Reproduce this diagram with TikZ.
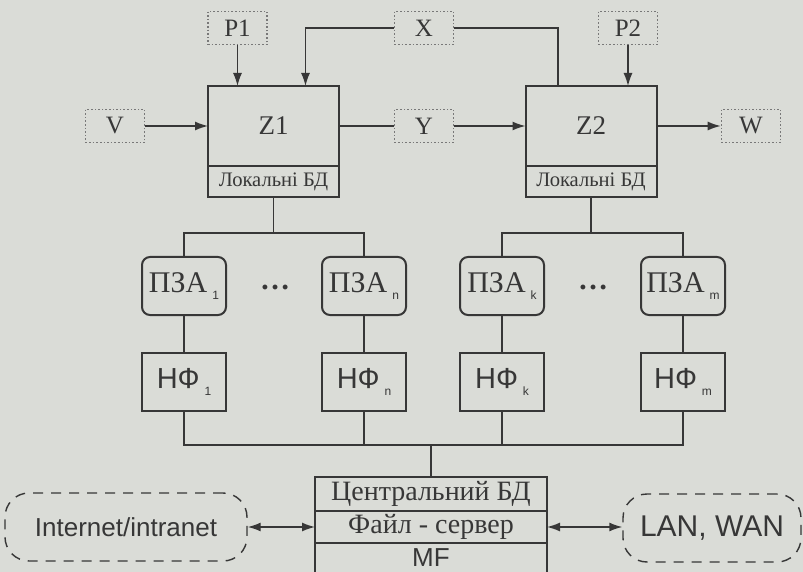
\documentclass[tikz,border=0pt]{standalone}
\usepackage{fontspec}
\setmainfont{Liberation Serif}
\setsansfont{Liberation Sans}
\usepackage{tikz}
\usetikzlibrary{shapes,arrows,arrows.meta,positioning,calc}
\definecolor{paper}{RGB}{218,220,215}
\definecolor{ink}{RGB}{55,55,55}
\definecolor{dotgray}{RGB}{120,120,120}
\newcommand{\lowidx}[1]{\,\raisebox{-0.5ex}{\sffamily\fontsize{6}{6}\selectfont #1}}

\begin{document}
\begin{tikzpicture}[x=0.5pt,y=-0.5pt,>={Latex[length=6.5pt,width=4.5pt]},
  every node/.style={text=ink},
  sig/.style={draw=dotgray,densely dotted,line width=0.8pt,minimum width=29.5pt,minimum height=16.5pt,inner sep=0pt,font=\fontsize{12.5}{13}\selectfont},
  block/.style={draw=ink,line width=1pt,outer sep=0pt,inner sep=0pt,minimum width=65.5pt,minimum height=40pt,font=\fontsize{13.5}{14}\selectfont},
  localdb/.style={draw=ink,line width=1pt,outer sep=0pt,inner sep=0pt,minimum width=65.5pt,minimum height=15.5pt,font=\fontsize{10.3}{11}\selectfont},
  pza/.style={draw=ink,line width=1pt,rounded corners=4pt,minimum width=42pt,minimum height=29pt,inner sep=0pt,font=\fontsize{15}{15}\selectfont},
  nf/.style={draw=ink,line width=1pt,minimum width=42pt,minimum height=29pt,inner sep=0pt,font=\sffamily\fontsize{14.5}{15}\selectfont},
  cbox/.style={draw=ink,line width=1pt,outer sep=0pt,inner sep=0pt,minimum width=116pt,font=\fontsize{14}{15}\selectfont},
  net/.style={draw=ink,line width=0.7pt,dash pattern=on 5pt off 4pt,rounded corners=12pt,minimum height=34pt,inner sep=0pt},
  link/.style={draw=ink,line width=0.7pt}]
\fill[paper] (0,0) rectangle (803,572);

\node[sig] (P1) at (237.5,28) {P1};
\node[sig] (X) at (424,28) {X};
\node[sig] (P2) at (628,28) {P2};
\node[sig] (V) at (115,126) {V};
\node[sig] (Y) at (424,126) {Y};
\node[sig] (W) at (751,126) {W};

\node[block] (Z1) at (273.5,126) {Z1};
\node[localdb,below=0pt of Z1] (Z1db) {Локальні БД};
\node[block] (Z2) at (591,126) {Z2};
\node[localdb,below=0pt of Z2] (Z2db) {Локальні БД};

\draw[link,->] (P1) -- (P1 |- Z1.north);
\draw[link,->] (P2) -- (P2 |- Z2.north);
\draw[link,->] (X.west) -| ([xshift=16pt]Z1.north);
\draw[link] (X.east) -| ([xshift=-16.5pt]Z2.north);
\draw[link,->] (V) -- (Z1);
\draw[link] (Z1) -- (Y);
\draw[link,->] (Y) -- (Z2);
\draw[link,->] (Z2) -- (W);

\foreach \n/\x in {1/184,n/364,k/502,m/683} {
  \node[pza] (pza\n) at (\x,286) {ПЗА\lowidx{\n}};
  \node[nf] (nf\n) at (\x,382) {НФ\lowidx{\n}};
  \draw[link] (pza\n) -- (nf\n);
}
\node (dots1) at (275,287) {\fontsize{15}{15}\selectfont\textbf{\dots}};
\node (dots2) at (593,287) {\fontsize{15}{15}\selectfont\textbf{\dots}};

\coordinate (bus1) at (273.5,233);
\coordinate (bus2) at (591,233);
\coordinate (bus3) at (431,445);
\draw[link] (Z1db) -- (bus1);
\draw[link] (pza1) |- (bus1) -| (pzan);
\draw[link] (Z2db) -- (bus2);
\draw[link] (pzak) |- (bus2) -| (pzam);
\draw[link] (nf1) |- (bus3) -| (nfm);
\draw[link] (nfn) -- (nfn |- bus3);
\draw[link] (nfk) -- (nfk |- bus3);

\node[cbox,minimum height=17pt] (cbd) at (431,494) {Центральний БД};
\node[cbox,minimum height=16pt,below=0pt of cbd] (fs) {Файл - сервер};
\node[cbox,minimum height=15pt,below=0pt of fs,font=\sffamily\fontsize{13}{13}\selectfont] (mf) {MF};
\draw[link] (bus3) -- (cbd);

\node[net,minimum width=121pt,font=\sffamily\fontsize{13}{13}\selectfont] (inet) at (126,527) {Internet/intranet};
\node[net,minimum width=89pt,font=\sffamily\fontsize{15}{15}\selectfont] (lan) at (712,528) {LAN, WAN};
\draw[link,<->] (fs.west -| inet.east) -- (fs.west);
\draw[link,<->] (fs.east) -- (fs.east -| lan.west);

\pgfresetboundingbox
\useasboundingbox (0,0) rectangle (803,572);
\end{tikzpicture}
\end{document}
